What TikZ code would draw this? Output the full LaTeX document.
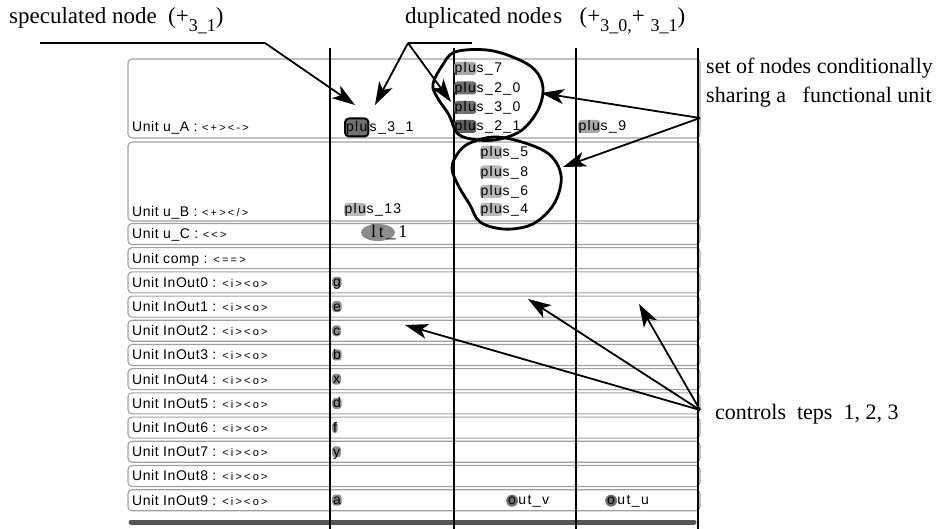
\documentclass[tikz,border=0pt]{standalone}
\usepackage{fontspec}
\setmainfont{Liberation Serif}
\newfontfamily\cellls[LetterSpace=10]{Liberation Sans}
\newfontfamily\lblls[LetterSpace=4]{Liberation Sans}
\newfontfamily\tinyls[LetterSpace=20]{Liberation Sans}
\newfontfamily\serifls[LetterSpace=15]{Liberation Serif}
\usetikzlibrary{arrows.meta,shapes.geometric}
\definecolor{rowgray}{HTML}{A0A0A0}
\definecolor{hlA}{HTML}{A8A8A8}
\definecolor{hlB}{HTML}{707070}
\definecolor{hlC}{HTML}{5C5C5C}
\definecolor{hlD}{HTML}{B8B8B8}
\definecolor{hlE}{HTML}{8C8C8C}
\definecolor{bargray}{HTML}{555555}
\newcommand\cellf{\fontsize{14}{14}\cellls}
\newcommand\lblf{\fontsize{14}{14}\lblls}
\newcommand\tinyf{\fontsize{11}{11}\tinyls}
\newcommand\annf{\fontsize{22}{29}\selectfont}
\newcommand\anntf{\fontsize{23}{29}\selectfont}
\newcommand\subx[1]{\raisebox{-0.32em}{\fontsize{18}{18}\selectfont #1}}
\newcommand\plustok[5]{%
  \node[hl, fill=#4] (#1a) at (#2,#3) {plu};
  \node[cell] (#1) at (#1a.base east) {s\_#5};}
\newcommand\urow[4]{%
  \draw[rowbox] (128,#2-10.5) rectangle (700,#2+10.5);
  \node[lbl] (#1) at (132,#2+5) {#3 : {\tinyf #4}};}
\newcommand\lettok[3]{%
  \node[hl, fill=hlE, text height=10pt, text depth=1pt, inner xsep=0.8pt] (#1) at (332,#2+4.5) {#3};}
\tikzset{
 rowbox/.style={draw=rowgray, line width=1.1pt, rounded corners=4pt},
 vline/.style={draw=black, line width=1.3pt},
 lbl/.style={font=\lblf, inner sep=0pt, anchor=base west},
 cell/.style={font=\cellf, inner sep=0pt, anchor=base west},
 hl/.style={font=\cellf, inner xsep=0.3pt, inner ysep=0pt, text height=11pt, text depth=2pt, rounded corners=3pt, anchor=base west},
 ann/.style={font=\annf, inner sep=0pt, anchor=base west, align=left},
 arr/.style={line width=1.8pt, -{Stealth[length=23pt,width=15pt,inset=6pt]}},
 pl/.style={line width=1.8pt},
 blob/.style={line width=2.8pt},
}
\begin{document}
\begin{tikzpicture}[x=1pt,y=-1pt]
\useasboundingbox (0,0) rectangle (938,529);
% rows
\draw[rowbox] (128,59) rectangle (700,138);
\node[lbl] (uA) at (132,131.5) {Unit u\_A : {\tinyf <+><->}};
\draw[rowbox] (128,142) rectangle (700,221);
\node[lbl] (uB) at (132,216.5) {Unit u\_B : {\tinyf <+></>}};
\urow{uC}{234}{Unit u\_C}{<<>}
\urow{ucomp}{258.2}{Unit comp}{<==>}
\urow{io0}{282.4}{Unit InOut0}{<i><o>}
\urow{io1}{306.6}{Unit InOut1}{<i><o>}
\urow{io2}{330.8}{Unit InOut2}{<i><o>}
\urow{io3}{355}{Unit InOut3}{<i><o>}
\urow{io4}{379.2}{Unit InOut4}{<i><o>}
\urow{io5}{403.4}{Unit InOut5}{<i><o>}
\urow{io6}{427.6}{Unit InOut6}{<i><o>}
\urow{io7}{451.8}{Unit InOut7}{<i><o>}
\urow{io8}{476}{Unit InOut8}{<i><o>}
\urow{io9}{500.2}{Unit InOut9}{<i><o>}
% bottom bar
\draw[line width=5pt, color=bargray, line cap=round] (131,522) -- (694,522);
% vertical lines
\foreach \x in {330,454,576,698} \draw[vline] (\x,48) -- (\x,529);
% column 1 tokens
\node[hl, fill=hlB, draw=black, line width=2pt, inner ysep=2.5pt, inner xsep=1pt, rounded corners=4pt] (p31a) at (344,132) {plu};
\node[cell] (p31) at (p31a.base east) {s\_3\_1};
\plustok{p13}{344}{214}{hlD}{13}
\node[ellipse, fill=hlE, minimum width=34pt, minimum height=17pt, inner sep=0pt] (lte) at (378,232.5) {};
\node[font=\fontsize{18}{18}\serifls, inner sep=0pt, anchor=base west] (lt) at (371,238) {lt\_1};
% column 2 tokens
\plustok{p7}{454}{73}{hlA}{7}
\plustok{p20}{454}{92.5}{hlB}{2\_0}
\plustok{p30}{454}{112}{hlB}{3\_0}
\plustok{p21}{454}{131}{hlC}{2\_1}
\plustok{p5}{480}{157}{hlD}{5}
\plustok{p8}{480}{176.5}{hlD}{8}
\plustok{p6}{480}{196}{hlD}{6}
\plustok{p4}{480}{214}{hlD}{4}
\plustok{p9}{578}{131}{hlA}{9}
% input letters
\lettok{tg}{282.4}{g}
\lettok{te}{306.6}{e}
\lettok{tc}{330.8}{c}
\lettok{tb}{355}{b}
\lettok{tx}{379.2}{x}
\lettok{td}{403.4}{d}
\lettok{tf}{427.6}{f}
\lettok{ty}{451.8}{y}
\lettok{ta}{500.2}{a}
% outputs
\node[hl, fill=hlB, rounded corners=6pt, text height=10pt, text depth=2pt, inner xsep=2pt] (ova) at (506,504.7) {o};
\node[cell] (ov) at (ova.base east) {ut\_v};
\node[hl, fill=hlB, rounded corners=6pt, text height=10pt, text depth=2pt, inner xsep=2pt] (oua) at (605,504.7) {o};
\node[cell] (ou) at (oua.base east) {ut\_u};
% blobs
\draw[blob] plot[smooth cycle, tension=0.6] coordinates {(455,52) (487,50) (515,58) (535,70) (543,88) (538,110) (522,130) (500,139) (478,140) (458,134) (449,115) (437,97) (433,84) (442,66)};
\draw[blob] plot[smooth cycle, tension=0.6] coordinates {(470,143) (495,137) (525,143) (550,155) (561,175) (557,198) (545,215) (528,226) (503,229) (480,222) (470,205) (458,185) (452,168) (458,153)};
% annotations
\node[ann, font=\anntf] (spec) at (9,24) {speculated node\ \ (+\subx{3\_1})};
\node[ann, font=\anntf] (dup) at (405,24) {duplicated node\kern2pt s\ \ \ (+\subx{3\_0,}+ \subx{3\_1})};
\node[ann] (share) at (706,103) {set of nodes conditionally\\sharing a \ \ functional unit};
\node[ann] (ctrl) at (715,420) {controls\ \ teps\ \ 1,\ 2,\ 3};
% connectors
\coordinate (s1) at (40,43);
\coordinate (s2) at (265,43);
\coordinate (s3) at (355,105);
\draw[pl] (s1) -- (s2);
\draw[arr] (s2) -- (s3);
\coordinate (d1) at (408,43);
\coordinate (d2) at (472,43);
\coordinate (d3) at (375,105);
\coordinate (d4) at (451,102);
\draw[pl] (d1) -- (d2);
\draw[arr] (d1) -- (d3);
\draw[arr] (d1) -- (d4);
\coordinate (h0) at (700,118);
\coordinate (h1) at (541,93);
\coordinate (h2) at (563,167);
\draw[arr] (h0) -- (h1);
\draw[arr] (h0) -- (h2);
\coordinate (c0) at (700,410);
\coordinate (c1) at (405,325);
\coordinate (c2) at (528,299);
\coordinate (c3) at (639,304);
\draw[arr] (c0) -- (c1);
\draw[arr] (c0) -- (c2);
\draw[arr] (c0) -- (c3);
\end{tikzpicture}
\end{document}
